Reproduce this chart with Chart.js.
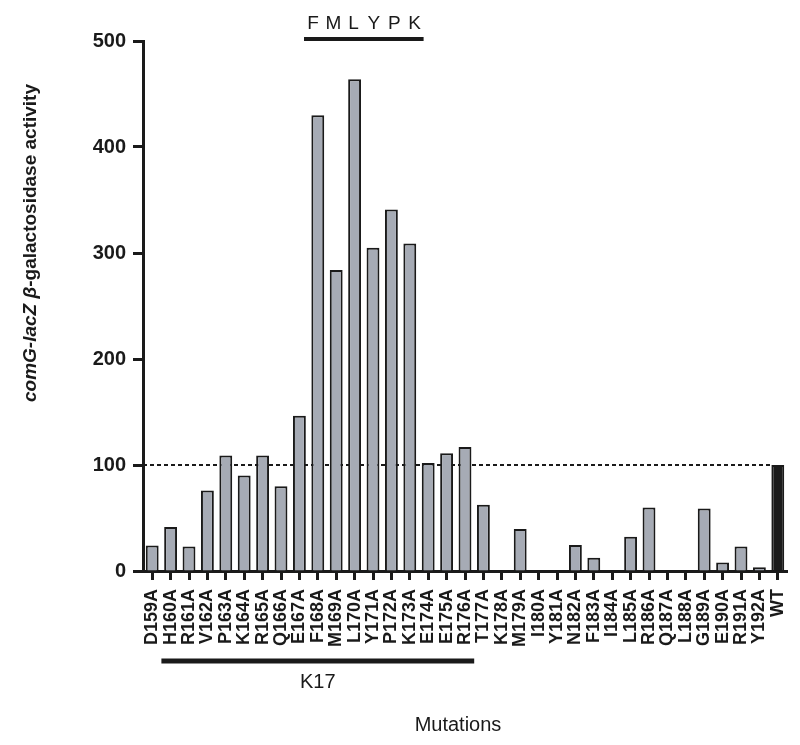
<!DOCTYPE html>
<html>
<head>
<meta charset="utf-8">
<script src="https://cdn.jsdelivr.net/npm/chart.js@4"></script>
<style>
	body { margin: 0; background: #fff; }
	#wrap { width: 800px; height: 745px; }
</style>
</head>
<body>
<div id="wrap"><canvas id="mut-chart" width="800" height="745"></canvas></div>
<script>
// mutant names, last one is wild type
var mutations = ['D159A', 'H160A', 'R161A', 'V162A', 'P163A', 'K164A', 'R165A', 'Q166A', 'E167A',
	'F168A', 'M169A', 'L170A', 'Y171A', 'P172A', 'K173A', 'E174A', 'E175A', 'R176A', 'T177A',
	'K178A', 'M179A', 'I180A', 'Y181A', 'N182A', 'F183A', 'I184A', 'L185A', 'R186A', 'Q187A',
	'L188A', 'G189A', 'E190A', 'R191A', 'Y192A', 'WT'];

// comG-lacZ beta-galactosidase activity
var activity = [24, 41.5, 23, 76, 109, 90, 109, 80, 146.5,
	430, 284, 464, 305, 341, 309, 102, 111, 117, 62.5,
	0, 39.6, 0, 0, 24.5, 12.6, 0, 32.4, 60, 0,
	0, 59, 8, 23, 3.5, 100];

var yTicks = [0, 100, 200, 300, 400, 500];
var wtLevel = 100;

// annotated stretches: [first, last, text]
var motifTop = ['F168A', 'K173A', 'FMLYPK'];
var motifBottom = ['H160A', 'R176A', 'K17'];

var barColors = [];
for (var i = 0; i < mutations.length; i++) {
	barColors.push(mutations[i] == 'WT' ? '#1b1b1b' : '#a6abb5');
}

var ink = '#1a1a1a';
var fam = 'Arial, "Liberation Sans", sans-serif';

var extrasPlugin = {
	id: 'extras',
	beforeDatasetsDraw: function(chart) {
		var ctx = chart.ctx;
		var x = chart.scales.x, y = chart.scales.y;
		var area = chart.chartArea;
		var wtIdx = mutations.indexOf('WT');
		var step = x.getPixelForValue(1) - x.getPixelForValue(0);
		var yy = y.getPixelForValue(wtLevel);
		ctx.save();
		ctx.strokeStyle = ink;
		ctx.lineWidth = 2;
		ctx.setLineDash([4, 3]);
		ctx.beginPath();
		ctx.moveTo(area.left, yy);
		ctx.lineTo(x.getPixelForValue(wtIdx) - step * 0.35, yy);
		ctx.stroke();
		ctx.restore();
	},
	afterDraw: function(chart) {
		var ctx = chart.ctx;
		var x = chart.scales.x;
		var step = x.getPixelForValue(1) - x.getPixelForValue(0);
		ctx.save();
		ctx.fillStyle = ink;
		ctx.strokeStyle = ink;

		// top bracket
		var a = x.getPixelForValue(mutations.indexOf(motifTop[0])) - step * 0.75;
		var b = x.getPixelForValue(mutations.indexOf(motifTop[1])) + step * 0.75;
		ctx.lineWidth = 4;
		ctx.beginPath();
		ctx.moveTo(a, 39);
		ctx.lineTo(b, 39);
		ctx.stroke();
		ctx.font = '19px ' + fam;
		ctx.textAlign = 'center';
		ctx.textBaseline = 'alphabetic';
		var letters = motifTop[2].split('');
		for (var k = 0; k < letters.length; k++) {
			var lx = a + 9 + (b - a - 18) * k / (letters.length - 1);
			ctx.fillText(letters[k], lx, 29);
		}

		// bottom bracket
		var c = x.getPixelForValue(mutations.indexOf(motifBottom[0])) - step * 0.5;
		var d = x.getPixelForValue(mutations.indexOf(motifBottom[1])) + step * 0.5;
		ctx.lineWidth = 5;
		ctx.beginPath();
		ctx.moveTo(c, 661);
		ctx.lineTo(d, 661);
		ctx.stroke();
		ctx.font = '20px ' + fam;
		ctx.fillText(motifBottom[2], (c + d) / 2, 688);

		// x title
		ctx.font = '20px ' + fam;
		ctx.fillText('Mutations', 458, 731);

		// y title, mixed italic parts
		var parts = [
			['italic bold 19px ' + fam, 'comG-lacZ '],
			['italic bold 19px ' + fam, '\u03B2'],
			['bold 19px ' + fam, '-galactosidase activity']
		];
		var total = 0;
		for (var p = 0; p < parts.length; p++) {
			ctx.font = parts[p][0];
			total += ctx.measureText(parts[p][1]).width;
		}
		ctx.translate(36, 243);
		ctx.rotate(-Math.PI / 2);
		ctx.textAlign = 'left';
		var px = -total / 2;
		for (var p = 0; p < parts.length; p++) {
			ctx.font = parts[p][0];
			ctx.fillText(parts[p][1], px, 0);
			px += ctx.measureText(parts[p][1]).width;
		}
		ctx.restore();
	}
};

new Chart(document.getElementById('mut-chart'), {
	type: 'bar',
	data: {
		labels: mutations,
		datasets: [{
			data: activity,
			backgroundColor: barColors,
			borderColor: ink,
			borderWidth: 2,
			barPercentage: 0.7,
			categoryPercentage: 1
		}]
	},
	options: {
		responsive: false,
		animation: false,
		layout: { padding: { top: 41, right: 13, left: 0, bottom: 0 } },
		plugins: {
			legend: { display: false },
			tooltip: { enabled: false }
		},
		scales: {
			x: {
				afterFit: function(s) {
					s.height = 174;
					s.paddingLeft = 0;
					s.paddingRight = 0;
				},
				border: { display: true, color: ink, width: 3 },
				grid: { offset: false, drawOnChartArea: false, drawTicks: true, tickLength: 9, tickWidth: 3, tickColor: ink },
				ticks: {
					autoSkip: false,
					minRotation: 90,
					maxRotation: 90,
					padding: 9,
					color: ink,
					font: { family: fam, size: 18, weight: 'bold' }
				}
			},
			y: {
				min: 0,
				max: 500,
				afterFit: function(s) { s.width = 143; },
				afterBuildTicks: function(s) { s.ticks = yTicks.map(function(v) { return { value: v }; }); },
				border: { display: true, color: ink, width: 3 },
				grid: { drawOnChartArea: false, drawTicks: true, tickLength: 10, tickWidth: 3, tickColor: ink },
				ticks: {
					padding: 7,
					color: ink,
					font: { family: fam, size: 20, weight: 'bold' }
				}
			}
		}
	},
	plugins: [extrasPlugin]
});
</script>
</body>
</html>
